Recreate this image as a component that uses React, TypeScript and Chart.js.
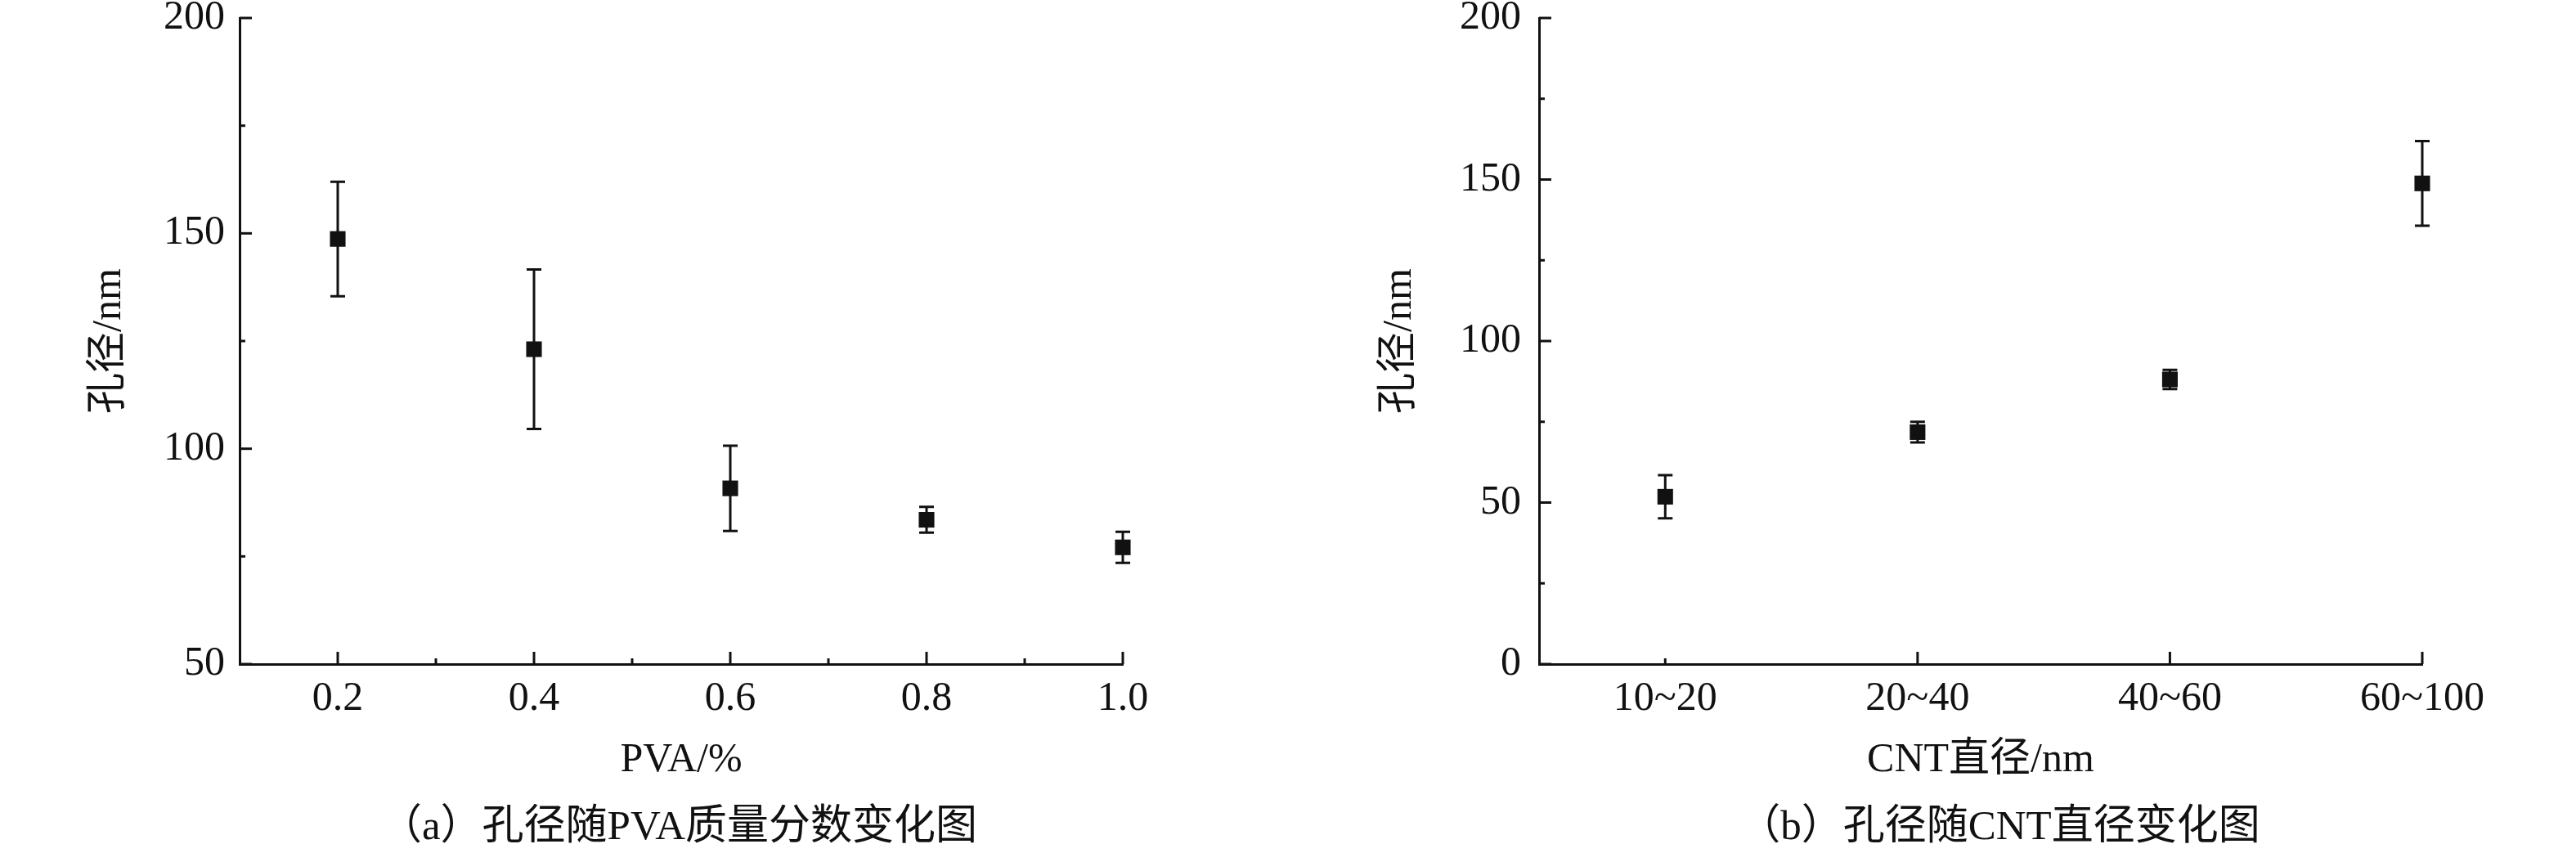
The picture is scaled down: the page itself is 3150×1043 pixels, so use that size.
import React, { useEffect, useRef } from 'react';
import { Chart, registerables } from 'chart.js';

Chart.register(...registerables);

// ---------- data: chart (a) ----------
const pvaFraction = [0.2, 0.4, 0.6, 0.8, 1.0];
const pvaPore = [148.7, 123.1, 90.8, 83.5, 77.1];
const pvaPoreErr = [13.3, 18.5, 9.9, 3.0, 3.6];
const pvaXMajor = [0.2, 0.4, 0.6, 0.8, 1.0];
const pvaXMinor = [0.3, 0.5, 0.7, 0.9];
const pvaYMajor = [50, 100, 150, 200];
const pvaYMinor = [75, 125, 175];

// ---------- data: chart (b) ----------
const cntCategories = ['10~20', '20~40', '40~60', '60~100'];
const cntPore = [51.8, 71.8, 88.1, 148.8];
const cntPoreErr = [6.7, 3.2, 3.0, 13.1];
const cntXMajor = [1, 2, 3];
const cntXMinor = [0];
const cntYMajor = [0, 50, 100, 150, 200];
const cntYMinor = [25, 75, 125, 175];

const INK = '#111111';
const FAMILY = '"Liberation Serif", "Times New Roman", "Noto Sans CJK SC", serif';

const inwardTicks = {
  id: 'inwardTicks',
  afterDraw(chart: any, _args: any, opts: any) {
    const { ctx, chartArea, scales } = chart;
    ctx.save();
    ctx.strokeStyle = INK;
    ctx.lineWidth = 3;
    const line = (x1: number, y1: number, x2: number, y2: number) => {
      ctx.beginPath();
      ctx.moveTo(x1, y1);
      ctx.lineTo(x2, y2);
      ctx.stroke();
    };
    const major = 15;
    const minor = 7;
    (opts.xMajor || []).forEach((v: number) => {
      const x = scales.x.getPixelForValue(v);
      line(x, chartArea.bottom, x, chartArea.bottom - major);
    });
    (opts.xMinor || []).forEach((v: number) => {
      const x = scales.x.getPixelForValue(v);
      line(x, chartArea.bottom, x, chartArea.bottom - minor);
    });
    (opts.yMajor || []).forEach((v: number) => {
      const y = scales.y.getPixelForValue(v);
      line(chartArea.left, y, chartArea.left + major, y);
    });
    (opts.yMinor || []).forEach((v: number) => {
      const y = scales.y.getPixelForValue(v);
      line(chartArea.left, y, chartArea.left + minor, y);
    });
    ctx.restore();
  },
};

const errorBars = {
  id: 'errorBars',
  beforeDatasetsDraw(chart: any) {
    const { ctx, scales } = chart;
    const xs = scales.x;
    const ys = scales.y;
    ctx.save();
    ctx.strokeStyle = INK;
    ctx.lineWidth = 3;
    chart.data.datasets.forEach((ds: any) => {
      (ds.data as any[]).forEach((p: any, i: number) => {
        const e = ds.errors[i];
        const px = xs.getPixelForValue(p.x);
        const top = ys.getPixelForValue(p.y + e);
        const bot = ys.getPixelForValue(p.y - e);
        const cap = 9;
        ctx.beginPath();
        ctx.moveTo(px, top);
        ctx.lineTo(px, bot);
        ctx.moveTo(px - cap, top);
        ctx.lineTo(px + cap, top);
        ctx.moveTo(px - cap, bot);
        ctx.lineTo(px + cap, bot);
        ctx.stroke();
      });
    });
    ctx.restore();
  },
};

type Spec = {
  xs: number[];
  ys: number[];
  errs: number[];
  xMin: number;
  xMax: number;
  xTicks: number[];
  xLabel: (v: number) => string;
  xMajor: number[];
  xMinor: number[];
  yMin: number;
  yMax: number;
  yMajor: number[];
  yMinor: number[];
  xTitle: string;
  yTitle: string;
  axisLeft: number;
  padRight: number;
  yTitlePad: number;
  yLabelPad: number;
};

const CANVAS_W = 1575;
const CANVAS_H = 975;

function Panel({ spec, left }: { spec: Spec; left: number }) {
  const ref = useRef<HTMLCanvasElement | null>(null);
  useEffect(() => {
    if (!ref.current) return;
    const font = { family: FAMILY, size: 50 };
    const chart = new Chart(ref.current, {
      type: 'scatter',
      data: {
        datasets: [
          {
            data: spec.xs.map((x, i) => ({ x, y: spec.ys[i] })),
            errors: spec.errs,
            clip: false,
            pointStyle: 'rect',
            pointRadius: 13.5,
            pointHoverRadius: 13.5,
            pointBorderWidth: 0,
            pointBackgroundColor: INK,
            backgroundColor: INK,
            borderColor: INK,
            showLine: false,
          } as any,
        ],
      },
      options: {
        animation: false,
        responsive: false,
        maintainAspectRatio: false,
        devicePixelRatio: 1,
        events: [],
        layout: { padding: { top: 22, right: spec.padRight, left: 0, bottom: 0 } },
        plugins: {
          legend: { display: false },
          tooltip: { enabled: false },
          inwardTicks: {
            xMajor: spec.xMajor,
            xMinor: spec.xMinor,
            yMajor: spec.yMajor,
            yMinor: spec.yMinor,
          },
        } as any,
        scales: {
          x: {
            type: 'linear',
            min: spec.xMin,
            max: spec.xMax,
            afterBuildTicks: (s: any) => {
              s.ticks = spec.xTicks.map((value) => ({ value }));
            },
            afterFit: (s: any) => {
              s.height = CANVAS_H - 812;
              s.paddingLeft = 0;
              s.paddingRight = 0;
            },
            ticks: {
              callback: (v: any) => spec.xLabel(Number(v)),
              font,
              color: INK,
              padding: 13,
              maxRotation: 0,
              autoSkip: false,
            },
            grid: { display: false, drawTicks: false },
            border: { display: true, color: INK, width: 3 },
            title: {
              display: true,
              text: spec.xTitle,
              font,
              color: INK,
              padding: { top: 0, bottom: 15 },
            },
          },
          y: {
            type: 'linear',
            min: spec.yMin,
            max: spec.yMax,
            afterBuildTicks: (s: any) => {
              s.ticks = spec.yMajor.map((value) => ({ value }));
            },
            afterFit: (s: any) => {
              s.width = spec.axisLeft;
              s.paddingTop = 0;
              s.paddingBottom = 0;
            },
            ticks: { font, color: INK, padding: spec.yLabelPad },
            grid: { display: false, drawTicks: false },
            border: { display: true, color: INK, width: 3 },
            title: {
              display: true,
              text: spec.yTitle,
              font,
              color: INK,
              padding: { top: spec.yTitlePad, bottom: 0 },
            },
          },
        },
      },
      plugins: [errorBars, inwardTicks],
    } as any);
    return () => chart.destroy();
  }, [spec]);
  return (
    <canvas
      ref={ref}
      width={CANVAS_W}
      height={CANVAS_H}
      style={{ position: 'absolute', left, top: 0, width: CANVAS_W, height: CANVAS_H }}
    />
  );
}

const specA: Spec = {
  xs: pvaFraction,
  ys: pvaPore,
  errs: pvaPoreErr,
  xMin: 0.1,
  xMax: 1.0,
  xTicks: pvaXMajor,
  xLabel: (v) => v.toFixed(1),
  xMajor: pvaXMajor,
  xMinor: pvaXMinor,
  yMin: 50,
  yMax: 200,
  yMajor: pvaYMajor,
  yMinor: pvaYMinor,
  xTitle: 'PVA/%',
  yTitle: '孔径/nm',
  axisLeft: 293,
  padRight: CANVAS_W - 1373,
  yTitlePad: 104,
  yLabelPad: 18,
};

const specB: Spec = {
  xs: cntCategories.map((_, i) => i),
  ys: cntPore,
  errs: cntPoreErr,
  xMin: -0.5,
  xMax: 3,
  xTicks: cntCategories.map((_, i) => i),
  xLabel: (v) => cntCategories[Math.round(v)] ?? '',
  xMajor: cntXMajor,
  xMinor: cntXMinor,
  yMin: 0,
  yMax: 200,
  yMajor: cntYMajor,
  yMinor: cntYMinor,
  xTitle: 'CNT直径/nm',
  yTitle: '孔径/nm',
  axisLeft: 1882 - CANVAS_W,
  padRight: CANVAS_W - (2962 - CANVAS_W),
  yTitlePad: 1712 - CANVAS_W - 30,
  yLabelPad: 22,
};

const captionStyle = (center: number): React.CSSProperties => ({
  position: 'absolute',
  top: 984,
  left: center,
  transform: 'translateX(-50%)',
  whiteSpace: 'nowrap',
  fontFamily: FAMILY,
  fontSize: 51,
  lineHeight: '51px',
  color: INK,
});

export default function App() {
  return (
    <div
      style={{
        position: 'absolute',
        left: 0,
        top: 0,
        width: 3150,
        height: 1043,
        background: '#ffffff',
        overflow: 'hidden',
      }}
    >
      <Panel spec={specA} left={0} />
      <Panel spec={specB} left={CANVAS_W} />
      <div style={captionStyle(830)}>（a）孔径随PVA质量分数变化图</div>
      <div style={captionStyle(2445)}>（b）孔径随CNT直径变化图</div>
    </div>
  );
}
